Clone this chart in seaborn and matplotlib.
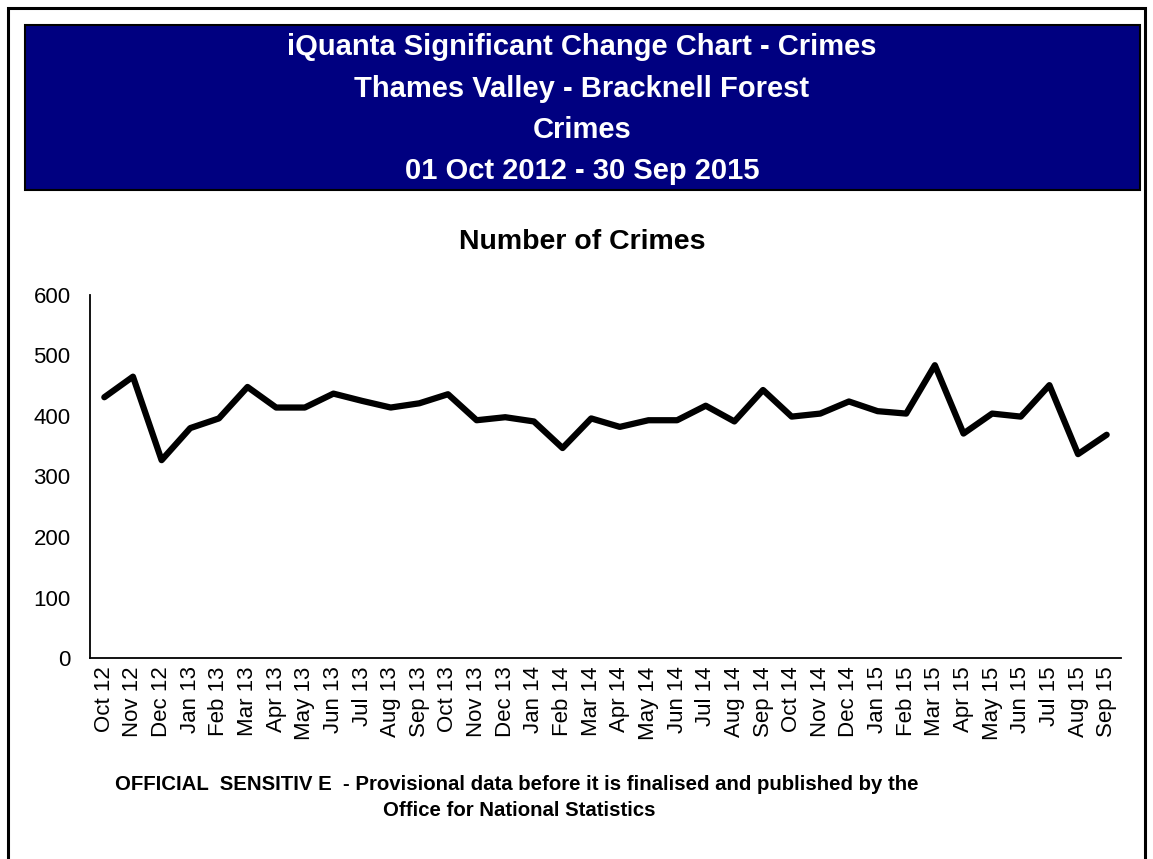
import numpy as np
import pandas as pd
import matplotlib
matplotlib.use("Agg")
import matplotlib.pyplot as plt
from matplotlib.patches import Rectangle
import seaborn as sns

months = ['Oct 12', 'Nov 12', 'Dec 12', 'Jan 13', 'Feb 13', 'Mar 13', 'Apr 13', 'May 13',
          'Jun 13', 'Jul 13', 'Aug 13', 'Sep 13', 'Oct 13', 'Nov 13', 'Dec 13', 'Jan 14',
          'Feb 14', 'Mar 14', 'Apr 14', 'May 14', 'Jun 14', 'Jul 14', 'Aug 14', 'Sep 14',
          'Oct 14', 'Nov 14', 'Dec 14', 'Jan 15', 'Feb 15', 'Mar 15', 'Apr 15', 'May 15',
          'Jun 15', 'Jul 15', 'Aug 15', 'Sep 15']
crimes = [431, 465, 327, 380, 396, 448, 414, 414, 437, 425, 414, 421,
          436, 393, 398, 391, 347, 396, 382, 393, 393, 417, 391, 443,
          399, 404, 424, 408, 404, 484, 371, 404, 399, 451, 337, 369]
title_lines = ['iQuanta Significant Change Chart - Crimes',
               'Thames Valley - Bracknell Forest',
               'Crimes',
               '01 Oct 2012 - 30 Sep 2015']
footer_1 = 'OFFICIAL  SENSITIV E  - Provisional data before it is finalised and published by the'
footer_2 = 'Office for National Statistics'

sns.set_style("white")
plt.rcParams['font.family'] = ['Liberation Sans', 'DejaVu Sans']
plt.rcParams['text.color'] = 'black'
plt.rcParams['xtick.color'] = 'black'
plt.rcParams['ytick.color'] = 'black'
plt.rcParams['axes.labelcolor'] = 'black'

W, H = 1153, 859
fig = plt.figure(figsize=(W / 100, H / 100), dpi=100)

def fx(px):
    return px / W

def fy(py):
    return 1 - py / H

# outer frame and title banner
fig.patches.append(Rectangle((fx(8), -0.05), fx(1145) - fx(8), fy(8) + 0.05,
                             transform=fig.transFigure, fill=False, edgecolor='black', lw=2.2))
fig.patches.append(Rectangle((fx(25), fy(190)), fx(1140) - fx(25), fy(25) - fy(190),
                             transform=fig.transFigure, facecolor='#000080', edgecolor='black', lw=1.5))
for line, py in zip(title_lines, [47, 89, 130, 171]):
    fig.text(fx(582), fy(py), line, color='white', fontsize=21, fontweight='bold',
             ha='center', va='center')

ax = fig.add_axes([fx(90), fy(658), fx(1121) - fx(90), fy(295) - fy(658)])
df = pd.DataFrame({'month': months, 'crimes': crimes})
sns.lineplot(data=df, x='month', y='crimes', sort=False, color='black', lw=4.5, ax=ax)

ax.set_xlim(-0.5, len(months) - 0.5)
ax.set_ylim(0, 600)
ax.set_yticks(range(0, 601, 100))
ax.set_xticks(range(len(months)))
ax.set_xticklabels(months, rotation=90)
ax.set_xticks(np.arange(-0.5, len(months), 1), minor=True)
ax.tick_params(axis='x', which='major', length=0, labelsize=16, pad=6)
ax.tick_params(axis='x', which='minor', length=6, width=1.3, direction='out', color='black')
ax.tick_params(axis='y', length=7, width=1.3, direction='out', color='black', labelsize=16, pad=7)
ax.set_xlabel('')
ax.set_ylabel('')
sns.despine(ax=ax)
for s in ['left', 'bottom']:
    ax.spines[s].set_color('black')
    ax.spines[s].set_linewidth(1.3)

fig.text(fx(582), fy(242), 'Number of Crimes', fontsize=20.5, fontweight='bold',
         ha='center', va='center')

fig.text(fx(517), fy(785), footer_1, fontsize=14.7, fontweight='bold', ha='center', va='center')
fig.text(fx(519), fy(810), footer_2, fontsize=14.7, fontweight='bold', ha='center', va='center')

fig.savefig('out.png', dpi=100)
